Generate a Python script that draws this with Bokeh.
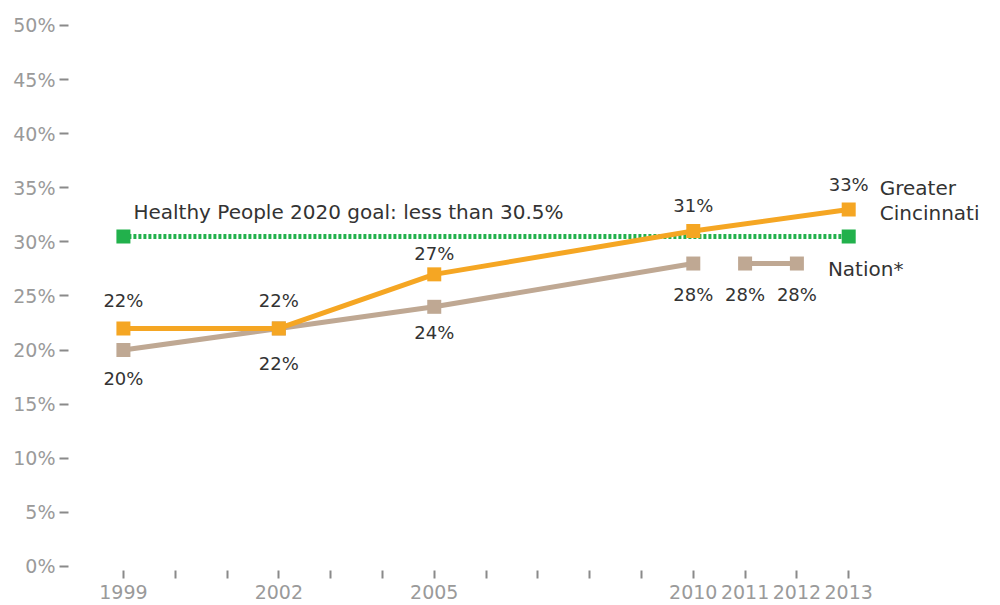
from bokeh.plotting import figure
from bokeh.models import FixedTicker, Range1d, ColumnDataSource, PrintfTickFormatter
from bokeh.core.properties import value
from bokeh.embed import file_html
from bokeh.resources import INLINE

# data
years_all = list(range(1999, 2014))
labeled_years = [1999, 2002, 2005, 2010, 2011, 2012, 2013]
cin_years = [1999, 2002, 2005, 2010, 2013]
cin_vals = [22, 22, 27, 31, 33]
nat_years_a = [1999, 2002, 2005, 2010]
nat_vals_a = [20, 22, 24, 28]
nat_years_b = [2011, 2012]
nat_vals_b = [28, 28]
goal_years = [1999, 2013]
goal_vals = [30.5, 30.5]
y_ticks = list(range(0, 51, 5))

FONT = "DejaVu Sans"
ORANGE = "#F5A623"
TAN = "#BFA893"
GREEN = "#22B14C"

p = figure(width=1000, height=605, output_backend="svg", toolbar_location=None,
           x_range=Range1d(1997.94, 2015.93), y_range=Range1d(-0.37, 50.46),
           min_border_left=68, min_border_right=0, min_border_top=20, min_border_bottom=35)
p.outline_line_color = None
p.grid.visible = False
p.background_fill_color = "white"
p.border_fill_color = "white"

# axes
for ax in (p.xaxis[0], p.yaxis[0]):
    ax.axis_line_color = None
    ax.major_tick_line_color = "#8a8a8a"
    ax.major_tick_line_width = 2
    ax.minor_tick_line_color = None
    ax.major_tick_in = 0
    ax.major_label_text_color = "#9a9a9a"
    ax.major_label_text_font = FONT
    ax.major_label_text_font_size = "19px"

p.yaxis.ticker = FixedTicker(ticks=y_ticks)
p.yaxis.formatter = PrintfTickFormatter(format="%d%%")
p.yaxis.major_tick_out = 9
p.yaxis.major_label_standoff = 4

p.xaxis.ticker = FixedTicker(ticks=years_all)
p.xaxis.major_label_overrides = {y: (str(y) if y in labeled_years else "") for y in years_all}
p.xaxis.major_tick_out = 8
p.xaxis.major_label_standoff = 6

# goal line
p.line(goal_years, goal_vals, line_color=GREEN, line_width=5, line_dash="3 2")
p.scatter(goal_years, goal_vals, marker="square", size=14, fill_color=GREEN, line_color=None)

# nation
p.line(nat_years_a, nat_vals_a, line_color=TAN, line_width=5)
p.line(nat_years_b, nat_vals_b, line_color=TAN, line_width=5)
p.scatter(nat_years_a + nat_years_b, nat_vals_a + nat_vals_b, marker="square", size=14,
          fill_color=TAN, line_color=None)

# cincinnati
p.line(cin_years, cin_vals, line_color=ORANGE, line_width=5)
p.scatter(cin_years, cin_vals, marker="square", size=14, fill_color=ORANGE, line_color=None)

# data labels
def labels(xs, ys, offs):
    src = ColumnDataSource(dict(x=xs, y=ys, t=[f"{v}%" for v in ys], off=offs))
    p.text(x="x", y="y", text="t", y_offset="off", source=src, text_align="center",
           text_baseline="middle", text_font=value(FONT), text_font_size="18px",
           text_color="#333333")

labels(cin_years, cin_vals, [-28, -28, -21, -26, -25])
labels(nat_years_a + nat_years_b, nat_vals_a + nat_vals_b, [28, 35, 26, 31, 31, 31])

# series labels
def note(x, y, txt, dx, dy):
    p.text(x=[x], y=[y], text=[txt], x_offset=dx, y_offset=dy, text_align="left",
           text_baseline="middle", text_font=value(FONT), text_font_size="20px",
           text_color="#333333")

note(cin_years[-1], cin_vals[-1], "Greater", 31, -21)
note(cin_years[-1], cin_vals[-1], "Cincinnati", 31, 4)
note(nat_years_b[-1], nat_vals_b[-1], "Nation*", 31, 5)
note(goal_years[0], goal_vals[0], "Healthy People 2020 goal: less than 30.5%", 10, -24)

open("out.html", "w").write(file_html(p, INLINE))
